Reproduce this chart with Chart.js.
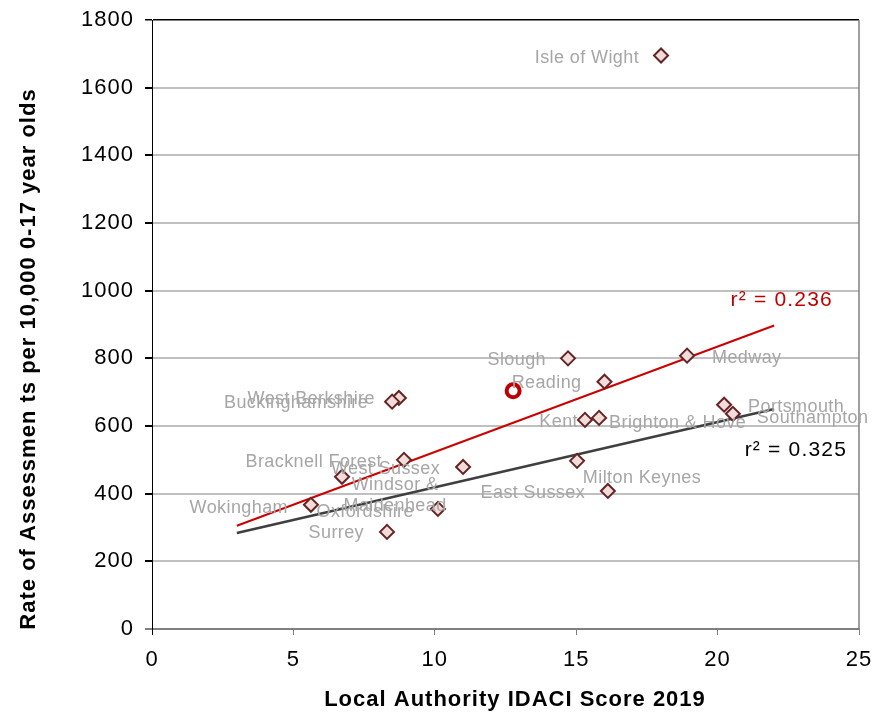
<!DOCTYPE html>
<html>
<head>
<meta charset="utf-8">
<script src="https://cdn.jsdelivr.net/npm/chart.js@4/dist/chart.umd.min.js"></script>
<style>
  html, body { margin: 0; padding: 0; background: #fff; }
  #wrap { width: 875px; height: 715px; }
</style>
</head>
<body>
<div id="wrap"><canvas id="idaciChart" width="875" height="715"></canvas></div>
<script>
// local authorities, IDACI score 2019 vs assessments per 10,000 children
const authorities = [
  'Isle of Wight', 'Slough', 'Medway', 'Reading', 'West Berkshire', 'Buckinghamshire',
  'Portsmouth', 'Southampton', 'Kent', 'Brighton & Hove', 'Bracknell Forest', 'West Sussex',
  'Windsor & Maidenhead', 'Oxfordshire', 'Wokingham', 'Surrey', 'East Sussex', 'Milton Keynes'
];
const idaciScores = [18.0, 14.71, 18.92, 16.0, 8.73, 8.49, 20.23, 20.54, 15.31, 15.81, 8.91, 11.0, 6.72, 10.11, 5.62, 8.31, 15.03, 16.12];
const assessmentRates = [1695, 800, 808, 731, 683, 672, 663, 636, 618, 624, 500, 479, 450, 355, 367, 287, 497, 408];

// highlighted authority (red ring)
const highlightX = [12.77];
const highlightY = [704];

// trend lines, end points
const trendRedX = [3, 22];
const trendRedY = [305, 897];
const trendGreyX = [3, 22];
const trendGreyY = [284, 650];

const xTicks = [0, 5, 10, 15, 20, 25];
const yTicks = [0, 200, 400, 600, 800, 1000, 1200, 1400, 1600, 1800];

const FONT = "'Liberation Sans', Arial, sans-serif";

// label placement: [dx, dy, align] relative to the marker
const labelPlace = {
  'Isle of Wight': [-22, 1, 'right'],
  'Slough': [-22, 0, 'right'],
  'Medway': [25, 1, 'left'],
  'Reading': [-23, 0, 'right'],
  'West Berkshire': [-24, 0, 'right'],
  'Buckinghamshire': [-24, 0, 'right'],
  'Portsmouth': [24, 1, 'left'],
  'Southampton': [24, 3, 'left'],
  'Kent': [-7, 1, 'right'],
  'Brighton & Hove': [10, 4, 'left'],
  'Bracknell Forest': [-22, 1, 'right'],
  'West Sussex': [-23, 1, 'right'],
  'Windsor & Maidenhead': [53, 7, 'center'],
  'Oxfordshire': [-24, 2, 'right'],
  'Wokingham': [-23, 2, 'right'],
  'Surrey': [-23, 0, 'right'],
  'East Sussex': [8, 31, 'right'],
  'Milton Keynes': [-25, -14, 'left']
};

const rSquared = [
  { text: 'r\u00b2 = 0.236', x: 24.08, y: 977, color: '#c00000' },
  { text: 'r\u00b2 = 0.325', x: 24.58, y: 534, color: '#000000' }
];

function pairs(xs, ys) {
  return xs.map((x, i) => ({ x: x, y: ys[i] }));
}

const decorations = {
  id: 'decorations',
  beforeDraw(chart) {
    chart.ctx.letterSpacing = '1px';
  },
  beforeDatasetsDraw(chart) {
    const ctx = chart.ctx;
    ctx.letterSpacing = '0px';
    const a = chart.chartArea;
    ctx.save();
    ctx.strokeStyle = '#808080';
    ctx.lineWidth = 1.5;
    ctx.beginPath();
    ctx.moveTo(a.right, a.top);
    ctx.lineTo(a.right, a.bottom);
    ctx.stroke();
    ctx.restore();
  },
  afterDatasetsDraw(chart) {
    const ctx = chart.ctx;
    const meta = chart.getDatasetMeta(0);
    const xs = chart.scales.x, ys = chart.scales.y;
    ctx.save();
    ctx.font = '18px ' + FONT;
    ctx.letterSpacing = '0.4px';
    ctx.fillStyle = '#a6a6a6';
    ctx.textBaseline = 'alphabetic';
    meta.data.forEach((pt, i) => {
      const name = authorities[i];
      const p = labelPlace[name] || [-22, 0, 'right'];
      ctx.textAlign = p[2];
      const base = pt.y + p[1] + 6.4;
      if (name === 'Windsor & Maidenhead') {
        ctx.fillText('Windsor &', pt.x + p[0], base);
        ctx.fillText('Maidenhead', pt.x + p[0], base + 21);
      } else {
        ctx.fillText(name, pt.x + p[0], base);
      }
    });

    ctx.font = '21px ' + FONT;
    ctx.letterSpacing = '1.2px';
    ctx.textAlign = 'right';
    rSquared.forEach(r => {
      ctx.fillStyle = r.color;
      ctx.fillText(r.text, xs.getPixelForValue(r.x), ys.getPixelForValue(r.y) + 7.5);
    });

    // axis titles
    ctx.fillStyle = '#000';
    ctx.font = 'bold 22px ' + FONT;
    ctx.letterSpacing = '1px';
    ctx.textAlign = 'center';
    ctx.fillText('Local Authority IDACI Score 2019', 515, 705.5);
    ctx.translate(35.4, 359);
    ctx.rotate(-Math.PI / 2);
    ctx.fillText('Rate of Assessmen ts per 10,000 0-17 year olds', 0, 0);
    ctx.restore();
  }
};

new Chart(document.getElementById('idaciChart'), {
  type: 'scatter',
  data: {
    datasets: [
      {
        label: 'Local authorities',
        data: pairs(idaciScores, assessmentRates),
        pointStyle: 'rectRot',
        pointRadius: 7,
        pointHoverRadius: 7,
        backgroundColor: '#f2dcdb',
        borderColor: '#632523',
        borderWidth: 2,
        order: 1
      },
      {
        label: 'Highlighted',
        data: pairs(highlightX, highlightY),
        pointStyle: 'circle',
        pointRadius: 6.5,
        pointHoverRadius: 6.5,
        backgroundColor: '#ffffff',
        borderColor: '#c00000',
        borderWidth: 4,
        order: 0
      },
      {
        label: 'Trend (r2 0.236)',
        data: pairs(trendRedX, trendRedY),
        showLine: true,
        pointRadius: 0,
        borderColor: '#cc0000',
        borderWidth: 2,
        order: 3
      },
      {
        label: 'Trend (r2 0.325)',
        data: pairs(trendGreyX, trendGreyY),
        showLine: true,
        pointRadius: 0,
        borderColor: '#3f3f3f',
        borderWidth: 2.5,
        order: 3
      }
    ]
  },
  options: {
    responsive: false,
    animation: false,
    layout: { padding: { top: 20, right: 16, left: 0, bottom: 0 } },
    plugins: { legend: { display: false }, tooltip: { enabled: false } },
    scales: {
      x: {
        type: 'linear',
        min: 0,
        max: 25,
        afterFit(scale) {
          scale.height = 86;
          scale.paddingLeft = 0;
          scale.paddingRight = 0;
        },
        afterBuildTicks(scale) { scale.ticks = xTicks.map(v => ({ value: v })); },
        ticks: { color: '#000', font: { family: FONT, size: 22 }, padding: 12, callback: v => String(v) },
        grid: {
          drawOnChartArea: false,
          tickLength: 6,
          tickColor: ctx => (ctx.tick && ctx.tick.value === 0 ? '#000' : '#808080'),
          color: '#808080'
        },
        border: { color: '#808080', width: 2 }
      },
      y: {
        type: 'linear',
        min: 0,
        max: 1800,
        afterFit(scale) {
          scale.width = 152;
          scale.paddingTop = 0;
          scale.paddingBottom = 0;
        },
        afterBuildTicks(scale) { scale.ticks = yTicks.map(v => ({ value: v })); },
        ticks: { color: '#000', font: { family: FONT, size: 22 }, padding: 11, callback: v => String(v) },
        grid: {
          tickLength: 7,
          color: ctx => {
            const v = ctx.tick ? ctx.tick.value : null;
            if (v === 1800) return '#000';
            if (v === 0) return 'rgba(0,0,0,0)';
            return '#c0c0c0';
          },
          lineWidth: ctx => (ctx.tick && ctx.tick.value === 1800 ? 1.5 : 2),
          tickColor: ctx => (ctx.tick && ctx.tick.value === 0 ? '#808080' : '#000')
        },
        border: { color: '#000', width: 1 }
      }
    }
  },
  plugins: [decorations]
});
</script>
</body>
</html>
